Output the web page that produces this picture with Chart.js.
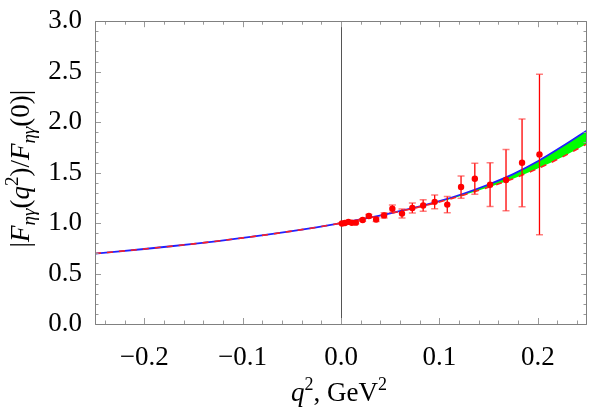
<!DOCTYPE html>
<html>
<head>
<meta charset="utf-8">
<script src="https://cdn.jsdelivr.net/npm/chart.js@4.4.0/dist/chart.umd.min.js"></script>
<style>
  html, body { margin: 0; padding: 0; background: #fff; }
  #wrap { width: 591px; height: 411px; }
</style>
</head>
<body>
<div id="wrap"><canvas id="c" width="591" height="411"></canvas></div>
<script>
// ---- data ----
const CURVE_Q     = [-0.25, -0.225, -0.2, -0.175, -0.15, -0.125, -0.1, -0.075, -0.05, -0.025, 0, 0.025, 0.05, 0.075, 0.1, 0.125, 0.15, 0.175, 0.2, 0.225, 0.25];
const CURVE_UPPER = [0.698, 0.720, 0.743, 0.768, 0.794, 0.822, 0.853, 0.885, 0.920, 0.958, 1.0, 1.046, 1.097, 1.153, 1.217, 1.293, 1.382, 1.485, 1.612, 1.760, 1.918];
const CURVE_LOWER = [0.698, 0.720, 0.743, 0.768, 0.794, 0.822, 0.853, 0.885, 0.920, 0.958, 1.0, 1.045, 1.095, 1.149, 1.209, 1.279, 1.355, 1.440, 1.540, 1.655, 1.785];

const PT_Q   = [0.001, 0.004, 0.0075, 0.011, 0.015, 0.022, 0.0283, 0.0357, 0.0438, 0.0522, 0.062, 0.0725, 0.0835, 0.0952, 0.108, 0.122, 0.136, 0.1515, 0.1677, 0.184, 0.2017];
const PT_F   = [0.996, 1.000, 1.012, 1.003, 1.004, 1.031, 1.070, 1.036, 1.076, 1.142, 1.094, 1.150, 1.174, 1.210, 1.183, 1.357, 1.439, 1.380, 1.426, 1.597, 1.679];
const PT_ERR = [0.008, 0.008, 0.010, 0.008, 0.010, 0.012, 0.015, 0.020, 0.025, 0.037, 0.045, 0.050, 0.057, 0.067, 0.080, 0.110, 0.153, 0.217, 0.303, 0.435, 0.795];

const X_TICKS = [-0.2, -0.1, 0.0, 0.1, 0.2];
const X_MINOR = [-0.24, -0.22, -0.18, -0.16, -0.14, -0.12, -0.08, -0.06, -0.04, -0.02, 0.02, 0.04, 0.06, 0.08, 0.12, 0.14, 0.16, 0.18, 0.22, 0.24];
const Y_TICKS = [0.0, 0.5, 1.0, 1.5, 2.0, 2.5, 3.0];
const Y_MINOR = [0.1, 0.2, 0.3, 0.4, 0.6, 0.7, 0.8, 0.9, 1.1, 1.2, 1.3, 1.4, 1.6, 1.7, 1.8, 1.9, 2.1, 2.2, 2.3, 2.4, 2.6, 2.7, 2.8, 2.9];

const SERIF = "'Liberation Serif', 'DejaVu Serif', serif";

function drawRich(ctx, segs, x, y) {
  let total = 0;
  const widths = segs.map(s => {
    ctx.font = (s.it ? 'italic ' : '') + s.size + 'px ' + SERIF;
    const w = ctx.measureText(s.t).width;
    total += w;
    return w;
  });
  let cx = x - total / 2;
  ctx.textAlign = 'left';
  ctx.textBaseline = 'alphabetic';
  segs.forEach((s, i) => {
    ctx.font = (s.it ? 'italic ' : '') + s.size + 'px ' + SERIF;
    ctx.fillText(s.t, cx, y + (s.dy || 0));
    cx += widths[i];
  });
}

const framePlugin = {
  id: 'frame',
  beforeDatasetsDraw(chart) {
    const {ctx, chartArea: a, scales: {x}} = chart;
    ctx.save();
    ctx.strokeStyle = '#555';
    ctx.lineWidth = 1;
    const px = Math.round(x.getPixelForValue(0)) + 0.5;
    ctx.beginPath(); ctx.moveTo(px, a.top); ctx.lineTo(px, a.bottom); ctx.stroke();
    ctx.restore();
  },
  afterDatasetDraw(chart, args) {
    if (args.index !== 1) return;
    const {ctx, scales: {x, y}} = chart;
    ctx.save();
    PT_Q.forEach((q, i) => {
      const px = x.getPixelForValue(q);
      const y1 = y.getPixelForValue(PT_F[i] + PT_ERR[i]);
      const y2 = y.getPixelForValue(PT_F[i] - PT_ERR[i]);
      ctx.strokeStyle = '#ff0000';
      ctx.lineWidth = 1.3;
      ctx.beginPath(); ctx.moveTo(px, y1); ctx.lineTo(px, y2); ctx.stroke();
      ctx.strokeStyle = 'rgba(255,40,40,0.6)';
      ctx.lineWidth = 1.5;
      ctx.beginPath();
      ctx.moveTo(px - 3.5, y1); ctx.lineTo(px + 3.5, y1);
      ctx.moveTo(px - 3.5, y2); ctx.lineTo(px + 3.5, y2);
      ctx.stroke();
    });
    ctx.restore();
  },
  afterDraw(chart) {
    const {ctx, chartArea: a, scales: {x, y}} = chart;
    ctx.save();
    ctx.strokeStyle = '#9a9a9a';
    ctx.lineWidth = 1;
    ctx.beginPath();
    const xt = (v, len) => {
      const p = Math.round(x.getPixelForValue(v)) + 0.5;
      ctx.moveTo(p, a.bottom); ctx.lineTo(p, a.bottom - len);
      ctx.moveTo(p, a.top); ctx.lineTo(p, a.top + len);
    };
    const yt = (v, len) => {
      const p = Math.round(y.getPixelForValue(v)) + 0.5;
      ctx.moveTo(a.left, p); ctx.lineTo(a.left + len, p);
      ctx.moveTo(a.right, p); ctx.lineTo(a.right - len, p);
    };
    X_TICKS.forEach(v => xt(v, 6));
    X_MINOR.forEach(v => xt(v, 3.5));
    Y_TICKS.forEach(v => yt(v, 6));
    Y_MINOR.forEach(v => yt(v, 3.5));
    ctx.stroke();
    ctx.strokeStyle = '#808080';
    ctx.beginPath();
    ctx.rect(Math.round(a.left) + 0.5, Math.round(a.top) + 0.5, Math.round(a.right - a.left) - 1, Math.round(a.bottom - a.top));
    ctx.stroke();
    ctx.fillStyle = '#000';
    drawRich(ctx, [
      {t: 'q', it: true, size: 27},
      {t: '2', size: 18, dy: -11},
      {t: ', GeV', size: 27},
      {t: '2', size: 18, dy: -11}
    ], (a.left + a.right) / 2 - 2, 401);
    ctx.translate(29, (a.top + a.bottom) / 2 - 4);
    ctx.rotate(-Math.PI / 2);
    drawRich(ctx, [
      {t: '|', size: 27},
      {t: 'F', it: true, size: 27},
      {t: 'ηγ', it: true, size: 19, dy: 6},
      {t: '(', size: 27},
      {t: 'q', it: true, size: 27},
      {t: '2', size: 19, dy: -11},
      {t: ')/', size: 27},
      {t: 'F', it: true, size: 27},
      {t: 'ηγ', it: true, size: 19, dy: 6},
      {t: '(0)|', size: 27}
    ], 0, 0);
    ctx.restore();
  }
};

const pts = (xs, ys) => xs.map((v, i) => ({x: v, y: ys[i]}));

new Chart(document.getElementById('c'), {
  type: 'line',
  data: {
    datasets: [
      {
        data: pts(CURVE_Q, CURVE_UPPER),
        borderColor: '#2020ff', borderWidth: 1.8, pointRadius: 0,
        fill: '+1', backgroundColor: '#00ff00',
        cubicInterpolationMode: 'monotone', order: 2
      },
      {
        data: pts(CURVE_Q, CURVE_LOWER),
        borderColor: '#ff2020', borderWidth: 1.6, pointRadius: 0,
        borderDash: [6, 6], fill: false,
        cubicInterpolationMode: 'monotone', order: 1
      },
      {
        data: pts(PT_Q, PT_F),
        showLine: false, pointRadius: 3.2, pointBackgroundColor: '#ff0000',
        pointBorderWidth: 0, borderColor: '#ff0000', order: 0
      }
    ]
  },
  options: {
    responsive: false,
    animation: false,
    devicePixelRatio: 1,
    layout: { padding: { top: 19, right: 1, left: 0, bottom: 0 } },
    plugins: { legend: { display: false }, tooltip: { enabled: false } },
    scales: {
      x: {
        type: 'linear', min: -0.25, max: 0.25,
        grid: { display: false }, border: { display: false },
        afterBuildTicks: s => { s.ticks = X_TICKS.map(v => ({value: v})); },
        afterFit: s => { s.height = 87; },
        ticks: {
          color: '#000', padding: 10, maxRotation: 0, autoSkip: false,
          font: { family: SERIF, size: 27 },
          callback: v => (v < -1e-9 ? '\u2212' : '') + Math.abs(v).toFixed(1)
        }
      },
      y: {
        type: 'linear', min: 0, max: 3,
        grid: { display: false }, border: { display: false },
        afterBuildTicks: s => { s.ticks = Y_TICKS.map(v => ({value: v})); },
        afterFit: s => { s.width = 95; },
        ticks: {
          color: '#000', padding: 5, autoSkip: false,
          font: { family: SERIF, size: 27 },
          callback: v => v.toFixed(1)
        }
      }
    }
  },
  plugins: [framePlugin]
});
</script>
</body>
</html>
